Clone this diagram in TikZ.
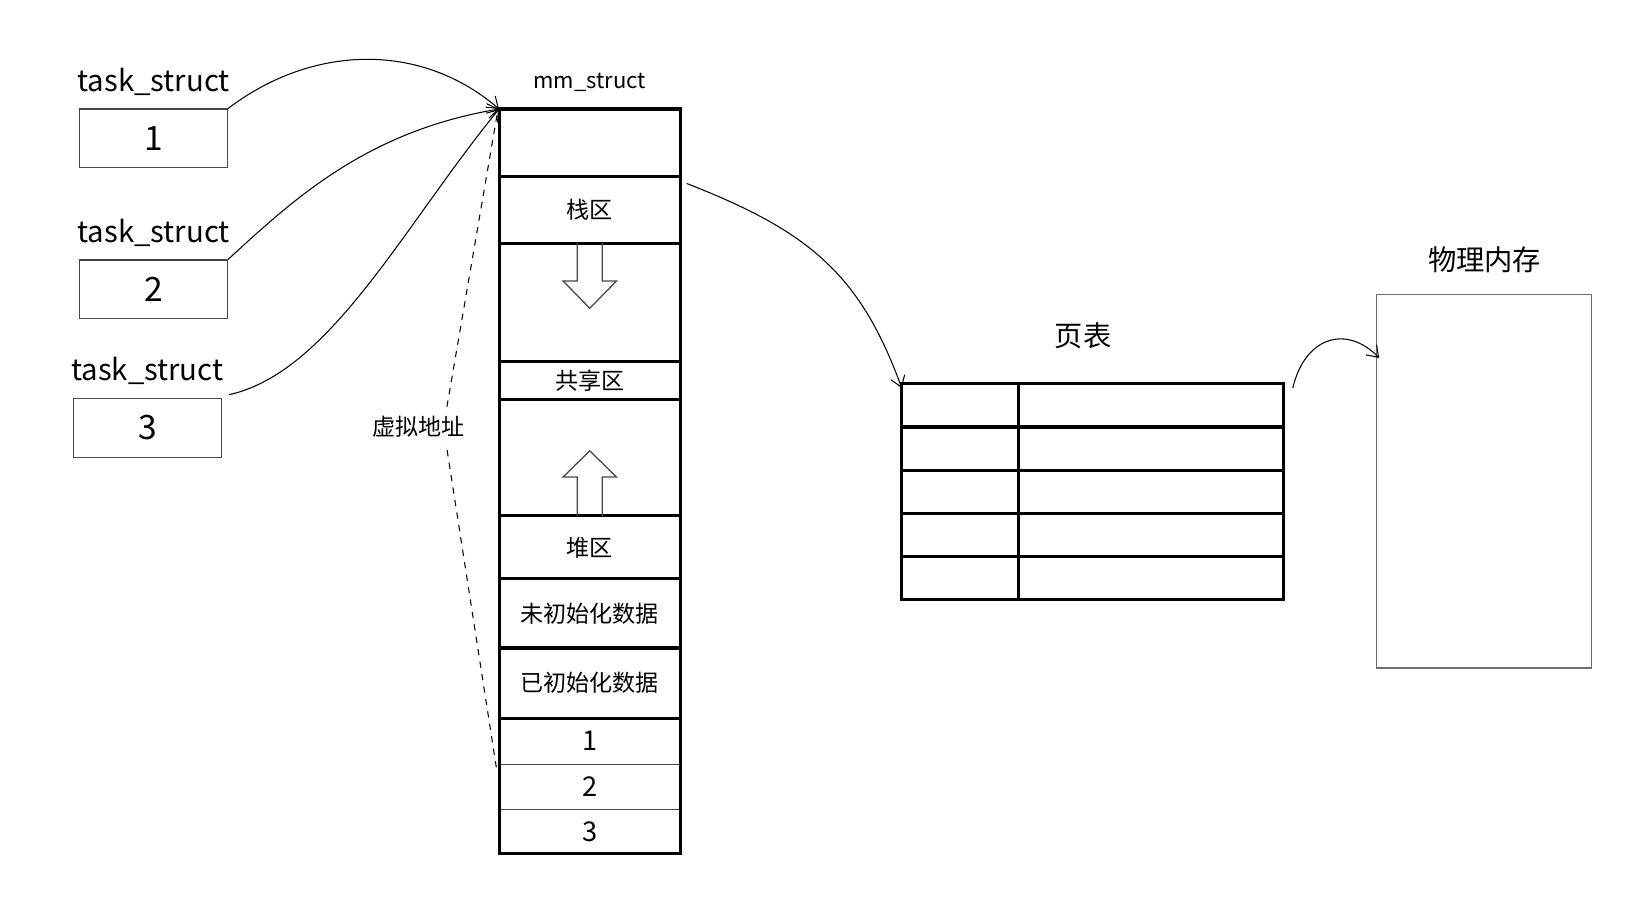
\documentclass[tikz,border=0pt]{standalone}
\usepackage{fontspec}
\usepackage{tikz}
\usetikzlibrary{positioning,arrows.meta}
\newfontfamily\cjk{Noto Sans CJK SC}
\definecolor{inkgray}{RGB}{70,70,70}
\definecolor{thingray}{RGB}{110,110,110}
\tikzset{
  tbox/.style={draw=inkgray,line width=0.6pt,minimum width=70.5pt,minimum height=28pt,font=\cjk\fontsize{16}{18}\selectfont},
  tlab/.style={font=\cjk\fontsize{14}{16}\selectfont,inner sep=1pt},
  mseg/.style={draw,line width=1.5pt,minimum width=86.5pt,outer sep=0pt,inner sep=1pt},
  nseg/.style={draw=inkgray,line width=0.5pt,minimum width=86.5pt,outer sep=0pt,inner sep=1pt,font=\cjk\fontsize{13}{15}\selectfont},
  pcell/.style={draw,line width=1.5pt,minimum height=20.6pt,outer sep=0pt},
  membox/.style={draw=thingray,line width=0.6pt,minimum width=102.5pt,minimum height=178pt},
  hollow/.style={draw=inkgray,line width=0.6pt,line join=miter},
  link/.style={line width=0.5pt,-{Straight Barb[length=5pt,width=7pt]}},
  vline/.style={line width=0.5pt,dashed},
  bigl/.style={font=\cjk\fontsize{13.5}{16}\selectfont},
}

\begin{document}
\begin{tikzpicture}[x=0.5pt,y=-0.5pt,node distance=0mm,font=\cjk\fontsize{11}{13}\selectfont]
  \useasboundingbox (0,0) rectangle (1568,878);
  \foreach \i/\x/\y in {1/146.5/132,2/146.5/276,3/140.5/408}{
     \node[tbox] (t\i) at (\x,\y) {\i};
     \node[tlab,above=5pt of t\i] (tl\i) {task\_struct};}
  \node[mseg,minimum height=32pt] (m0) at (562.5,136) {};
  \node[font=\cjk\fontsize{10.5}{12}\selectfont,above=5pt of m0] (mlab) {mm\_struct};
  \node[mseg,minimum height=32pt,below=of m0] (m1) {栈区};
  \node[mseg,minimum height=56.5pt,below=of m1] (m2) {};
  \node[mseg,minimum height=18pt,below=of m2] (m3) {共享区};
  \node[mseg,minimum height=55.5pt,below=of m3] (m4) {};
  \node[mseg,minimum height=30pt,below=of m4] (m5) {堆区};
  \node[mseg,minimum height=33pt,below=of m5] (m6) {未初始化数据};
  \node[mseg,minimum height=33.5pt,below=of m6] (m7) {已初始化数据};
  \node[nseg,minimum height=22pt,below=of m7] (m8) {1};
  \node[nseg,minimum height=21.5pt,below=of m8] (m9) {2};
  \node[nseg,minimum height=21pt,below=of m9] (m10) {3};
  \draw[line width=1.5pt] (m8.north west) rectangle (m10.south east);
  \draw[hollow] ([xshift=-6pt]m2.north) -- ++(0,36) -- ++(-13.5,0) -- ++(25.5,26)
       -- ++(25.5,-26) -- ++(-13.5,0) -- ++(0,-36);
  \draw[hollow] ([xshift=-6pt]m4.south) -- ++(0,-37) -- ++(-13.5,0) -- ++(25.5,-25)
       -- ++(25.5,25) -- ++(-13.5,0) -- ++(0,37);
  \coordinate (vtip) at (423,407);
  \draw[vline] ([shift={(-2,6)}]m0.north west) -- (vtip) -- ([shift={(-2,7)}]m9.north west);
  \node[fill=white] (vaddr) at (399,407) {虚拟地址};
  \foreach \r in {0,...,4}{
     \node[pcell,minimum width=55.5pt] (pl\r) at (915.5,{386.6+41.2*\r}) {};
     \node[pcell,minimum width=126.5pt,right=of pl\r] (pr\r) {};}
  \node[bigl] (ptlab) at (1033,320) {页表};
  \node[membox] (mem) at (1415.5,459) {};
  \node[bigl] (memlab) at (1416,248) {物理内存};
  \draw[link] (t1.north east) .. controls (300,41) and (403,41) .. (m0.north west);
  \draw[link] (t2.north east) .. controls (280,190) and (350,125) .. (m0.north west);
  \draw[link] ([shift={(7,-3)}]t3.north east) .. controls (315,355) and (385,215) .. (m0.north west);
  \draw[link] ([shift={(6,7)}]m1.north east) .. controls (770,220) and (820,260) .. ([yshift=-2pt]pl0.north west);
  \draw[link] ([shift={(9,4)}]pr0.north east) .. controls (1245,320) and (1285,310) .. ([shift={(3,61)}]mem.north west);
\end{tikzpicture}
\end{document}
